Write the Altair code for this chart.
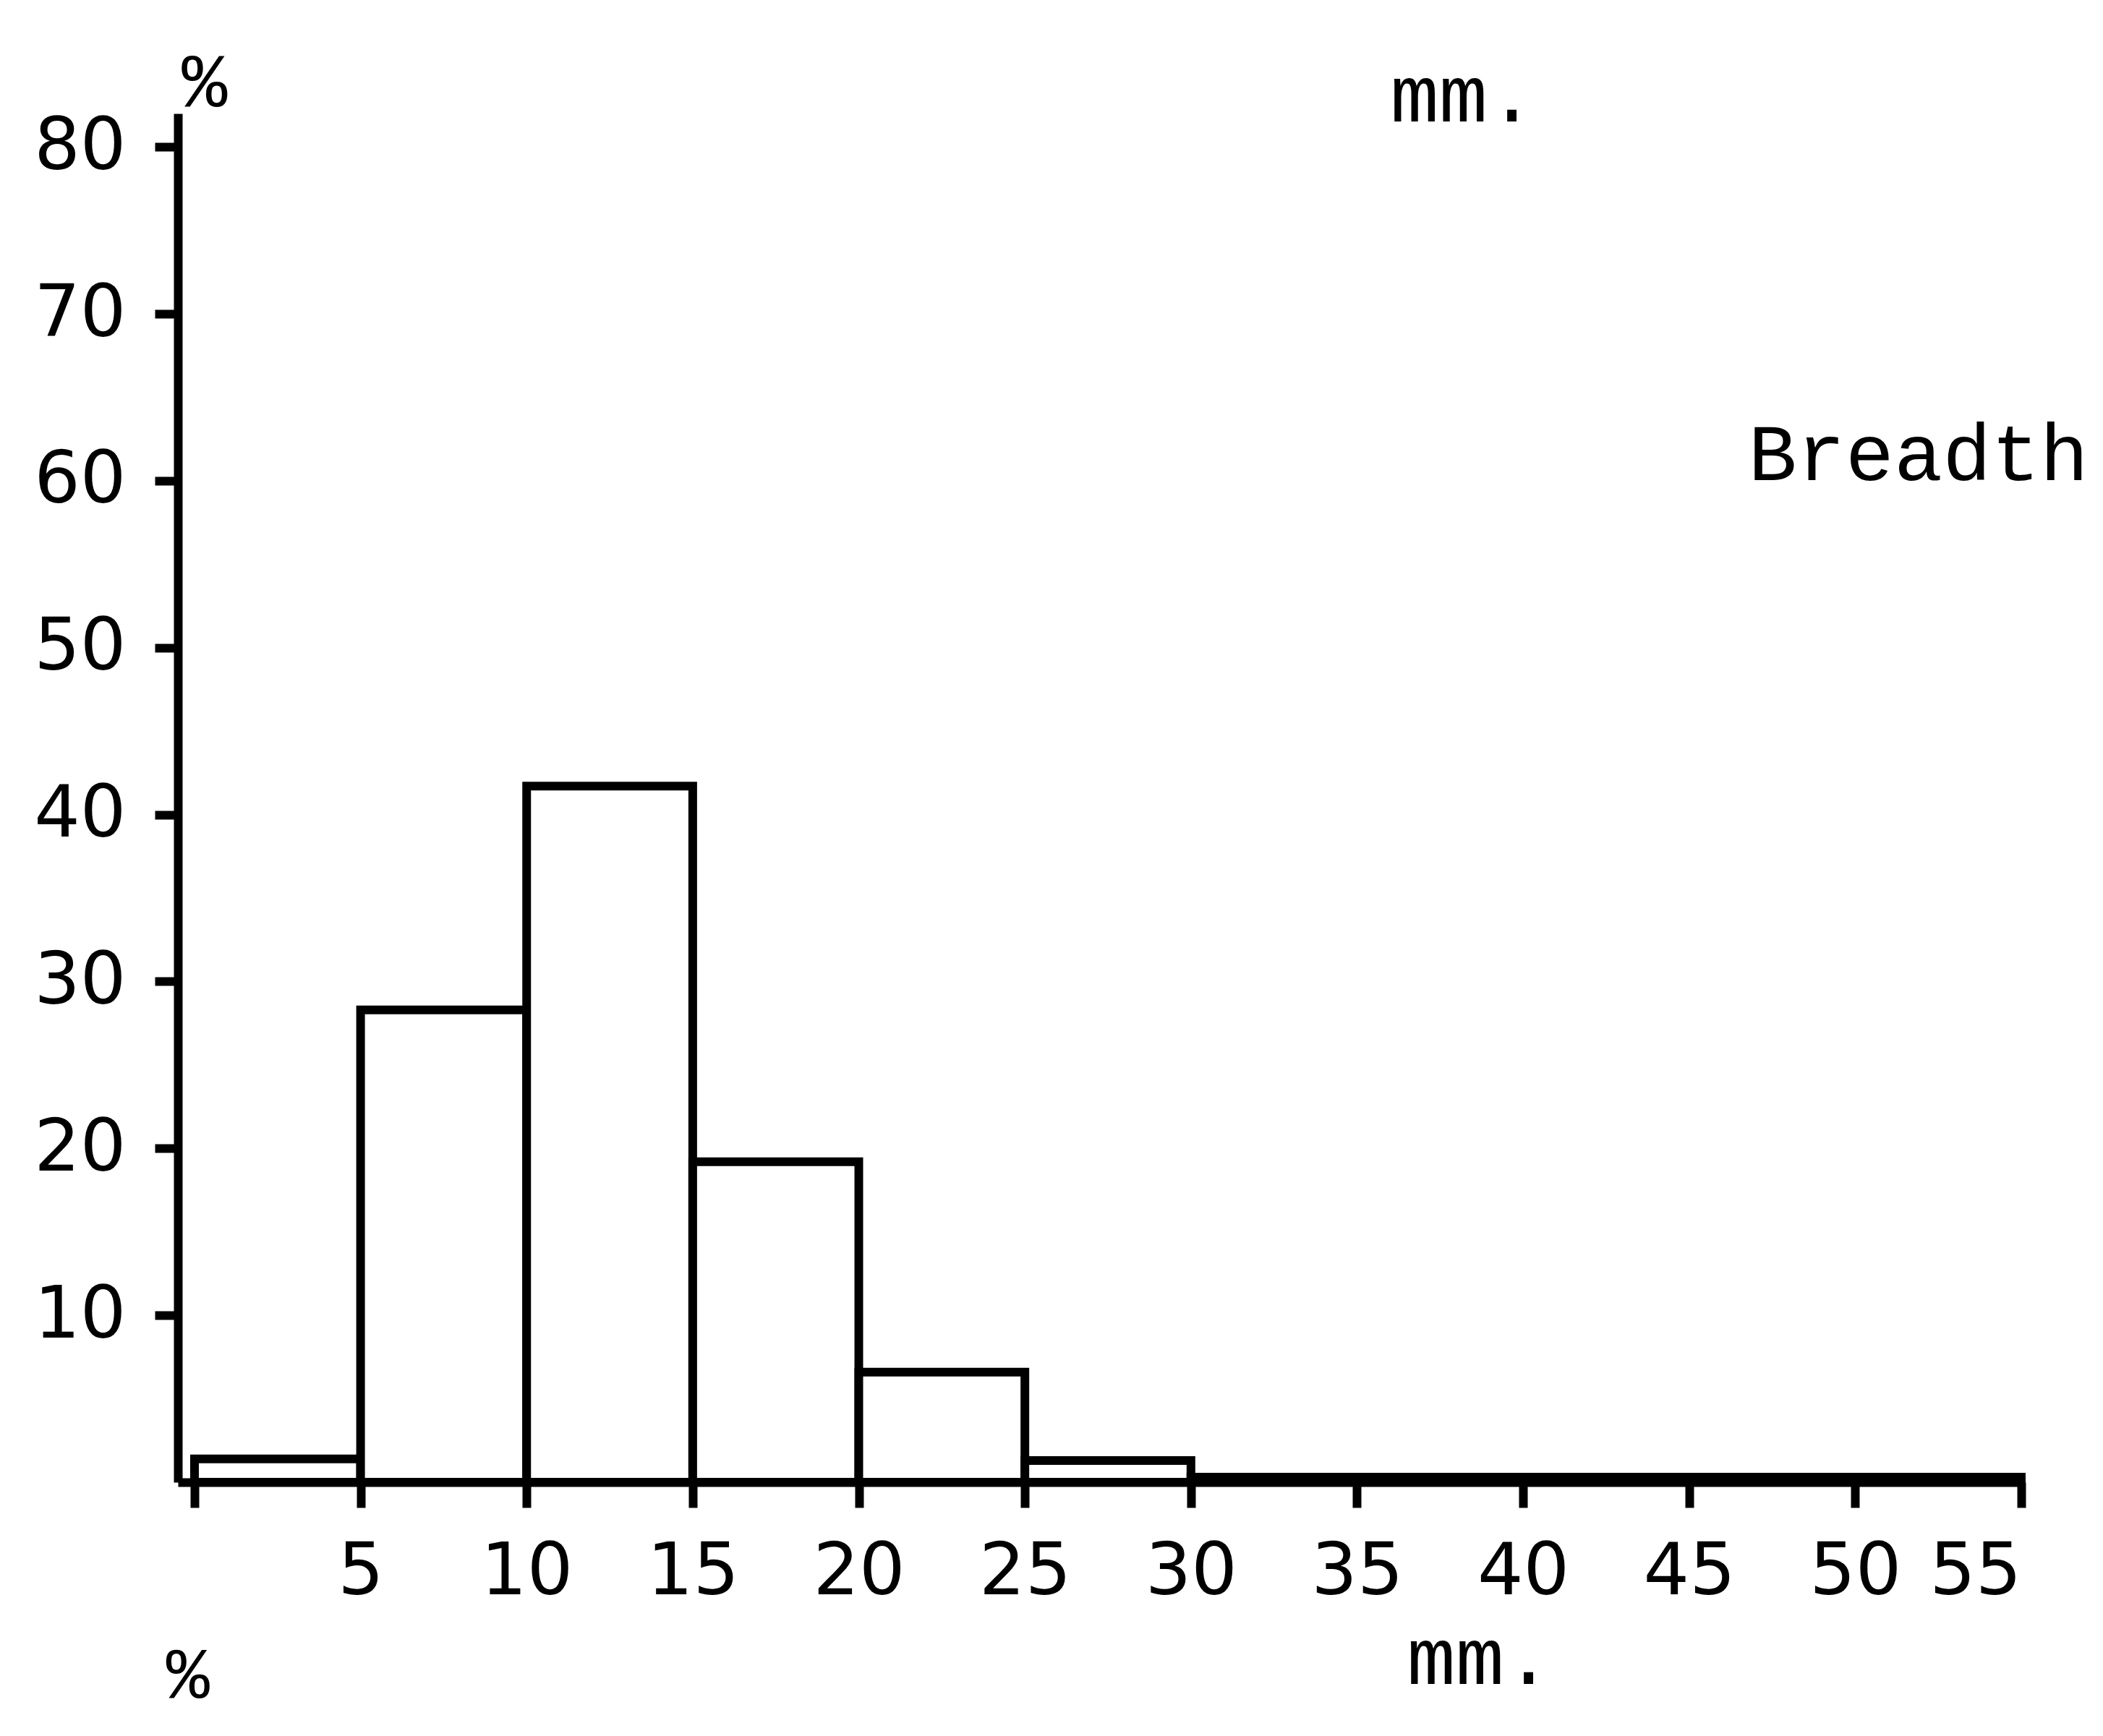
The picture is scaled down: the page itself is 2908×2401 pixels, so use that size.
import altair as alt
import pandas as pd

# --- data ---
bin_start = [0, 5, 10, 15, 20, 25, 30, 35, 40, 45, 50]
bin_end = [5, 10, 15, 20, 25, 30, 35, 40, 45, 50, 55]
percent = [1.4, 28.3, 41.7, 19.2, 6.6, 1.3, 0.3, 0.3, 0.3, 0.3, 0.3]

x_ticks = [0, 5, 10, 15, 20, 25, 30, 35, 40, 45, 50, 55]
y_ticks = [10, 20, 30, 40, 50, 60, 70, 80]

ann_text = ["%", "mm.", "Breadth", "mm.", "%"]
ann_x = [0.3, 38.2, 51.9, 38.7, -0.2]
ann_y = [83.8, 83.0, 61.5, -10.6, -11.6]
ann_size = [105, 112, 112, 112, 100]

bars = pd.DataFrame({"start": bin_start, "end": bin_end, "pct": percent,
                     "base": [0] * len(percent)})
ann = pd.DataFrame({"text": ann_text, "x": ann_x, "y": ann_y, "size": ann_size})

xscale = alt.Scale(domain=[-0.5, 55], nice=False, zero=False)
yscale = alt.Scale(domain=[0, 82], nice=False)

LW = 12

hist = alt.Chart(bars).mark_rect(
    fill="white", stroke="black", strokeWidth=LW
).encode(
    x=alt.X("start:Q", scale=xscale, title=None,
            axis=alt.Axis(values=x_ticks, grid=False, domainColor="black",
                          domainWidth=LW, tickColor="black", tickWidth=LW,
                          tickSize=35, labelPadding=40,
                          labelFont="DejaVu Sans", labelFontSize=100,
                          labelColor="black",
                          labelExpr="datum.value == 0 ? '' : datum.label")),
    x2="end:Q",
    y=alt.Y("pct:Q", scale=yscale, title=None,
            axis=alt.Axis(values=y_ticks, grid=False, domainColor="black",
                          domainWidth=LW, tickColor="black", tickWidth=LW,
                          tickSize=32, labelPadding=40,
                          labelFont="DejaVu Sans", labelFontSize=100,
                          labelColor="black")),
    y2="base:Q",
)

texts = alt.Chart(ann).mark_text(
    font="Liberation Mono", color="black", baseline="middle", align="center",
    clip=False
).encode(
    x=alt.X("x:Q", scale=xscale),
    y=alt.Y("y:Q", scale=yscale),
    text="text:N",
    size=alt.Size("size:Q", scale=None, legend=None),
)

chart = alt.layer(hist, texts).properties(
    width=2549, height=1893,
    autosize=alt.AutoSizeParams(type="none"),
    padding={"left": 238, "top": 149, "right": 105, "bottom": 340},
    background="white",
).configure_view(stroke=None)

chart.save("out.html", embed_options={"renderer": "svg", "actions": False})
